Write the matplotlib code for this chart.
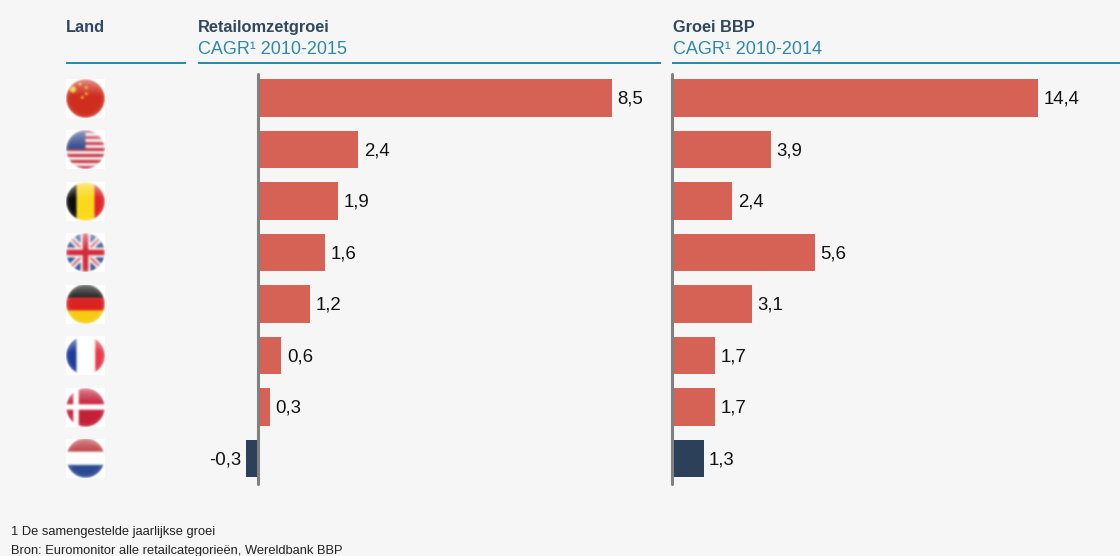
import numpy as np
import matplotlib
matplotlib.use("Agg")
import matplotlib.pyplot as plt
from matplotlib.patches import Rectangle

plt.rcParams['font.family'] = ['Liberation Sans', 'DejaVu Sans']

countries = ['China', 'VS', 'België', 'VK', 'Duitsland', 'Frankrijk', 'Denemarken', 'Nederland']
retail_values = [8.5, 2.4, 1.92, 1.6, 1.24, 0.55, 0.28, -0.3]
retail_labels = ['8,5', '2,4', '1,9', '1,6', '1,2', '0,6', '0,3', '-0,3']
gdp_values = [14.4, 3.88, 2.37, 5.6, 3.12, 1.68, 1.7, 1.23]
gdp_labels = ['14,4', '3,9', '2,4', '5,6', '3,1', '1,7', '1,7', '1,3']
highlight = 'Nederland'

BG, RED, NAVY, TEAL, GREY = '#f6f6f6', '#d66255', '#2c4059', '#2f8aa8', '#808080'
W, H = 1120, 556
fig = plt.figure(figsize=(W / 100, H / 100), dpi=100, facecolor=BG)


def pxaxes(x0, x1, y0, y1):
    return fig.add_axes([x0 / W, 1 - y1 / H, (x1 - x0) / W, (y1 - y0) / H])


def ftext(x, y, s, **kw):
    fig.text(x / W, 1 - y / H, s, va='baseline', **kw)


def rule(x0, x1, y):
    fig.add_artist(Rectangle((x0 / W, 1 - (y + 1.0) / H), (x1 - x0) / W, 2.0 / H,
                             transform=fig.transFigure, color=TEAL, lw=0))


def panel(x0, x1, zero_px, px_per_unit, values, labels):
    ax = pxaxes(x0, x1, 72, 486)
    ax.set_facecolor('none')
    ax.set_xlim((x0 - zero_px) / px_per_unit, (x1 - zero_px) / px_per_unit)
    ax.set_ylim(7.534, -0.505)
    colors = [NAVY if c == highlight else RED for c in countries]
    ax.barh(range(len(values)), values, height=0.735, color=colors, lw=0)
    ax.axvline(0, ymin=0.004, ymax=0.996, color=GREY, lw=2.2, solid_capstyle='round', zorder=3, clip_on=False)
    for i, (v, s) in enumerate(zip(values, labels)):
        off = 4.0 if v > 0 else -3.0
        ax.annotate(s, (v, i), xytext=(off, 0.7), textcoords='offset points',
                    ha='left' if v > 0 else 'right', va='center_baseline',
                    fontsize=13.4, color='#111111')
    ax.axis('off')


panel(198, 661, 258.4, 41.6, retail_values, retail_labels)
panel(662, 1120, 672.3, 25.4, gdp_values, gdp_labels)

for x0, x1 in [(66, 186), (198, 661), (672, 1120)]:
    rule(x0, x1, 62.5)

ftext(66, 32, 'Land', fontsize=11.8, fontweight='bold', color='#31465f')
ftext(198, 32, 'Retailomzetgroei', fontsize=11.8, fontweight='bold', color='#31465f')
ftext(198, 54, 'CAGR¹ 2010-2015', fontsize=12.95, color=TEAL)
ftext(673, 32, 'Groei BBP', fontsize=11.8, fontweight='bold', color='#31465f')
ftext(673, 54, 'CAGR¹ 2010-2014', fontsize=12.95, color=TEAL)
ftext(11, 534.5, '1 De samengestelde jaarlijkse groei', fontsize=9.3, color='#222222')
ftext(11, 554, 'Bron: Euromonitor alle retailcategorieën, Wereldbank BBP', fontsize=9.3, color='#222222')


def hexc(h):
    return np.array(matplotlib.colors.to_rgb(h))


def flag_pattern(name, u, v):
    img = np.zeros(u.shape + (3,))
    def fill(mask, c):
        img[mask] = hexc(c)
    if name == 'China':
        fill(np.ones_like(u, bool), '#cf2e1e')
        for cx, cy, r in [(.18, .27, .08), (.36, .13, .035), (.52, .22, .035), (.52, .38, .035), (.42, .47, .035)]:
            fill((u - cx) ** 2 + (v - cy) ** 2 < r ** 2, '#f6cc2e')
    elif name == 'VS':
        fill(np.ones_like(u, bool), '#f4f2f2')
        fill((np.floor(v * 13).astype(int) % 2) == 0, '#c8313f')
        fill((u < .5) & (v < .5), '#3c5290')
    elif name == 'België':
        fill(u < .27, '#0c0c0c'); fill((u >= .27) & (u < .73), '#fbd91c'); fill(u >= .73, '#e1242b')
    elif name == 'VK':
        fill(np.ones_like(u, bool), '#30508f')
        d1, d2 = np.abs(u - v), np.abs(u + v - 1)
        fill((d1 < .12) | (d2 < .12), '#f4f2f2')
        fill((d1 < .03) | (d2 < .03), '#d0384a')
        fill((np.abs(u - .5) < .13) | (np.abs(v - .5) < .13), '#f4f2f2')
        fill((np.abs(u - .5) < .07) | (np.abs(v - .5) < .07), '#d42a3a')
    elif name == 'Duitsland':
        fill(v < .34, '#111111'); fill((v >= .34) & (v < .66), '#dc2222'); fill(v >= .66, '#f6cc10')
    elif name == 'Frankrijk':
        fill(u < .27, '#1d3c98'); fill((u >= .27) & (u < .75), '#ffffff'); fill(u >= .75, '#e73a48')
    elif name == 'Denemarken':
        fill(np.ones_like(u, bool), '#c51f3a')
        fill((np.abs(u - .255) < .07) | (np.abs(v - .485) < .07), '#ffffff')
    elif name == 'Nederland':
        fill(v < .34, '#b8333a'); fill((v >= .34) & (v < .67), '#ffffff'); fill(v >= .67, '#2c4a92')
    return img


def blur(a, n=3, k=2):
    for _ in range(k):
        p = np.pad(a, ((n, n), (n, n), (0, 0)), mode='edge')
        c = np.cumsum(p, axis=0)
        a2 = (c[2 * n:, :] - np.vstack([np.zeros((1,) + c.shape[1:]), c[:-2 * n - 1, :]])) / (2 * n + 1)
        c = np.cumsum(a2, axis=1)
        a = (c[:, 2 * n:] - np.hstack([np.zeros((c.shape[0], 1, 3)), c[:, :-2 * n - 1]])) / (2 * n + 1)
    return a


def flag_image(name, size=156):
    yy, xx = np.mgrid[0:size, 0:size]
    u, v = (xx + .5) / size, (yy + .5) / size
    img = flag_pattern(name, u, v)
    img = blur(img, 3, 2)
    r = np.hypot(u - .5, v - .5) / .49
    gloss = np.clip((.42 - v) / .42, 0, 1) * 0.42
    img = img + (1 - img) * gloss[..., None]
    shade = np.clip((r - .72) / .28, 0, 1) ** 2 * .2
    img = img + (1 - img) * shade[..., None]
    mask = (r <= 1).astype(float)[..., None]
    img = img * mask + (1 - mask)
    return np.clip(blur(img, 3, 2), 0, 1)


for i, name in enumerate(countries):
    cy = 98.5 + 51.45 * i
    fa = pxaxes(66, 105, cy - 19.5, cy + 19.5)
    fa.imshow(flag_image(name), interpolation='antialiased', aspect='auto')
    fa.axis('off')

fig.savefig('out.png', dpi=100, facecolor=BG)
